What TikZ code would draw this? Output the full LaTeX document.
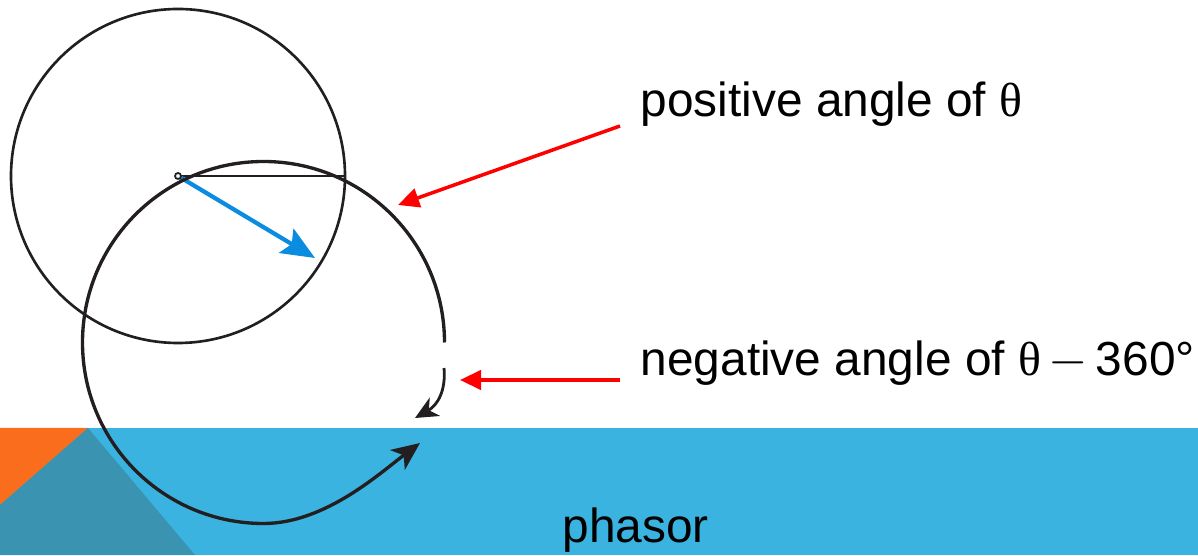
\documentclass[tikz,border=0pt]{standalone}
\usepackage{fontspec}
\setmainfont{Liberation Sans}
\newfontfamily\symf{Liberation Serif}
\usetikzlibrary{arrows.meta}
\definecolor{bandblue}{RGB}{58,179,224}
\definecolor{darkteal}{RGB}{58,147,176}
\definecolor{orangec}{RGB}{249,109,28}
\definecolor{inkblack}{RGB}{35,31,32}
\definecolor{phasorblue}{RGB}{10,140,225}
\begin{document}
\begin{tikzpicture}[x=0.01cm,y=0.01cm,
  lbl/.style={inner sep=0pt, anchor=base west, font=\fontsize{13.6}{16}\selectfont},
  redarrow/.style={red, line width=1pt, -{Triangle[length=6pt,width=5.5pt]}},
  curvearrow/.style={inkblack, line width=0.95pt, -{Stealth[length=8pt,width=7pt,inset=2.2pt]}},
  smallarrow/.style={inkblack, line width=0.8pt, -{Stealth[length=6.5pt,width=6pt,inset=2pt]}}]
\useasboundingbox (0,0) rectangle (1198,555);
% background band
\fill[bandblue] (0,0) rectangle (1198,127);
\fill[orangec] (0,127) -- (88,127) -- (0,50) -- cycle;
\fill[darkteal] (0,50) -- (88,127) -- (195,0) -- (0,0) -- cycle;
% first circle and phasor
\coordinate (O) at (178,379);
\draw[inkblack, line width=0.75pt] (O) circle[radius=167];
\coordinate (R) at (345,379);
\draw[inkblack, line width=0.6pt] (O) -- (R);
\coordinate (P) at (315,297);
\draw[phasorblue, line width=1.2pt, -{Stealth[length=9.5pt,width=8pt,inset=1.8pt]}] (O) -- (P);
\draw[inkblack, line width=0.5pt, fill=white] (O) circle[radius=3];
% big rotation curve
\coordinate (C2) at (263.5,212.5);
\coordinate (S) at (444.5,212.5);
\coordinate (E) at (420,112);
\draw[curvearrow] (S) arc[start angle=0, end angle=270, radius=181]
  .. controls (325,31.5) and (380,82) .. (E);
% small negative curve
\coordinate (S2) at (444,187);
\coordinate (E2) at (415,137);
\draw[smallarrow] (S2) .. controls (446,165) and (438,150) .. (E2);
% labels
\node[lbl] (pos) at (640,438) {positive angle of {\symf θ}};
\node[lbl] (neg) at (640,179) {negative angle of {\symf θ}\hspace{0.16em}$-$\hspace{0.16em}360°};
\node[lbl] (ph) at (562,12) {phasor};
% red pointers
\coordinate (T1) at (398,350);
\coordinate (T2) at (460,175);
\draw[redarrow] ([shift={(-20,-9)}]pos.base west) -- (T1);
\draw[redarrow] ([shift={(-20,-4)}]neg.base west) -- (T2);
\end{tikzpicture}
\end{document}
